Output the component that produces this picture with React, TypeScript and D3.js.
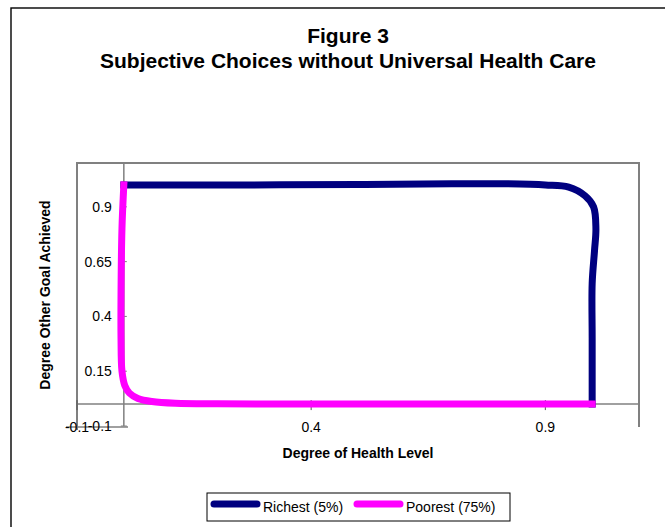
import React from "react";
import * as d3 from "d3";

// Curve of the wealthiest group: (health level, other goal achieved)
const richestX = [0, 0.25, 0.5, 0.7, 0.82, 0.9, 0.95, 0.985, 1.003, 1.008, 1.005, 1.0, 1.0, 1.0];
const richestY = [1.0, 1.0, 1.002, 1.005, 1.005, 1.0, 0.99, 0.95, 0.9, 0.8, 0.7, 0.55, 0.3, 0];

// Curve of the poorest group
const poorestX = [0, -0.004, -0.006, -0.006, -0.004, 0.002, 0.012, 0.03, 0.06, 0.11, 0.2, 0.4, 0.7, 1.0];
const poorestY = [1.0, 0.8, 0.5, 0.3, 0.15, 0.085, 0.05, 0.026, 0.012, 0.004, 0.001, 0, 0, 0];

const xTicks = [-0.1, 0.4, 0.9];
const yTicks = [-0.1, 0.15, 0.4, 0.65, 0.9];

const seriesNames = ["Richest (5%)", "Poorest (75%)"];
const seriesColors = ["#000080", "#FF00FF"];

const W = 665;
const H = 527;
const plot = { left: 77, right: 639, top: 163, bottom: 426 };
const FONT = "Liberation Sans, Arial, sans-serif";

export default function App() {
  const x = d3.scaleLinear().domain([-0.1, 1.1]).range([plot.left, plot.right]);
  const y = d3.scaleLinear().domain([-0.1, 1.1]).range([plot.bottom, plot.top]);
  const x0 = x(0);
  const y0 = y(0);

  const line = d3
    .line<[number, number]>()
    .x((d) => x(d[0]))
    .y((d) => y(d[1]))
    .curve(d3.curveCatmullRom.alpha(0.5));

  const richest = richestX.map((v, i) => [v, richestY[i]] as [number, number]);
  const poorest = poorestX.map((v, i) => [v, poorestY[i]] as [number, number]);
  const series = [richest, poorest];

  const axisGray = "#808080";

  return (
    <svg
      width={W}
      height={H}
      style={{ position: "absolute", left: 0, top: 0, background: "#fff" }}
      fontFamily={FONT}
    >
      {/* chart frame */}
      <rect x={11} y={8} width={700} height={560} fill="#fff" stroke="#000" strokeWidth={1.4} />

      {/* titles */}
      <text x={348} y={43} textAnchor="middle" fontSize={21} fontWeight="bold">
        Figure 3
      </text>
      <text x={348} y={68} textAnchor="middle" fontSize={21} fontWeight="bold">
        Subjective Choices without Universal Health Care
      </text>

      {/* plot area border */}
      <path
        d={`M${plot.left},${plot.bottom + 4}V${plot.top}H${plot.right}V${plot.bottom + 1}`}
        fill="none"
        stroke={axisGray}
        strokeWidth={2}
      />
      <line x1={66} x2={128} y1={plot.bottom + 1} y2={plot.bottom + 1} stroke={axisGray} strokeWidth={1.5} />

      {/* x axis at y = 0 */}
      <line x1={plot.left} x2={plot.right} y1={y0} y2={y0} stroke={axisGray} strokeWidth={1.5} />
      {xTicks.map((t) => (
        <line key={"xt" + t} x1={x(t)} x2={x(t)} y1={y0 - 4} y2={y0 + 6} stroke="#555" strokeWidth={1} />
      ))}
      {/* y axis at x = 0 */}
      <line x1={x0} x2={x0} y1={plot.top} y2={plot.bottom} stroke={axisGray} strokeWidth={1.5} />
      {yTicks.map((t) => (
        <line key={"yt" + t} x1={x0 - 3} x2={x0 + 3} y1={y(t)} y2={y(t)} stroke={axisGray} strokeWidth={1} />
      ))}

      {/* series */}
      {series.map((s, i) => (
        <path
          key={seriesNames[i]}
          d={line(s) || ""}
          fill="none"
          stroke={seriesColors[i]}
          strokeWidth={7}
          strokeLinejoin="round"
          strokeLinecap="square"
        />
      ))}

      {/* tick labels */}
      {yTicks.map((t) => (
        <text key={"yl" + t} x={x0 - 12} y={y(t) + 5} textAnchor="end" fontSize={14}>
          {String(t)}
        </text>
      ))}
      {xTicks.map((t) => (
        <text key={"xl" + t} x={x(t)} y={plot.bottom + 6} textAnchor="middle" fontSize={14}>
          {String(t)}
        </text>
      ))}

      {/* axis titles */}
      <text x={358} y={458} textAnchor="middle" fontSize={14} fontWeight="bold">
        Degree of Health Level
      </text>
      <text
        transform={`translate(50,295) rotate(-90)`}
        textAnchor="middle"
        fontSize={14}
        fontWeight="bold"
      >
        Degree Other Goal Achieved
      </text>

      {/* legend */}
      <rect x={207} y={493} width={303} height={28} fill="#fff" stroke="#000" strokeWidth={1} />
      {seriesNames.map((n, i) => {
        const lx = i === 0 ? 210 : 353;
        return (
          <g key={"lg" + n}>
            <line x1={lx + 4} x2={lx + 47} y1={504} y2={504} stroke={seriesColors[i]} strokeWidth={7} strokeLinecap="round" />
            <text x={lx + 53} y={512} fontSize={14}>
              {n}
            </text>
          </g>
        );
      })}
    </svg>
  );
}
